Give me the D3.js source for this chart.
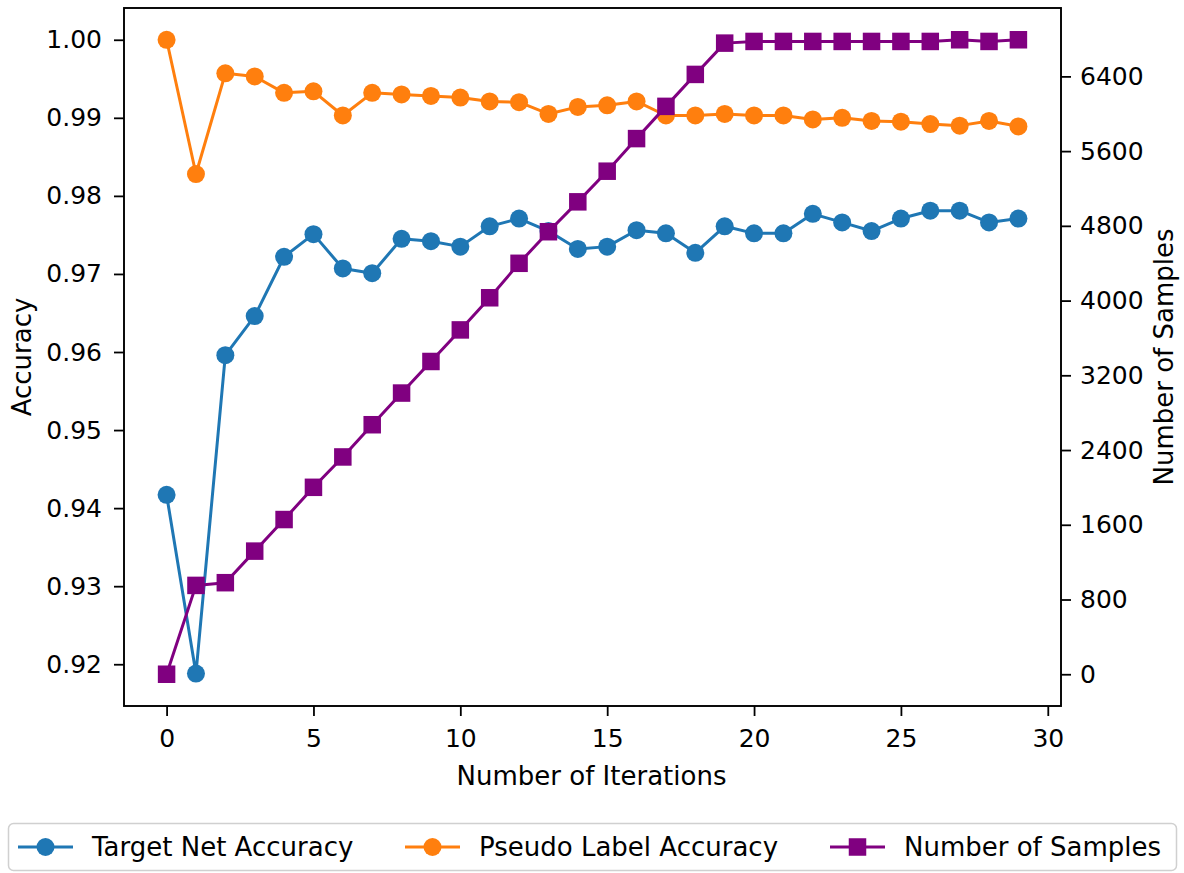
<!DOCTYPE html>
<html>
<head>
<meta charset="utf-8">
<script src="https://cdnjs.cloudflare.com/ajax/libs/d3/7.8.5/d3.min.js"></script>
<style>
  body { margin: 0; background: #fff; }
  svg text { font-family: "DejaVu Sans", sans-serif; fill: #000; }
</style>
</head>
<body>
<div id="chart"></div>
<script>
// iterations 0..29
const iterations = d3.range(0, 30);

const targetNetAccuracy = [
  0.9417, 0.9188, 0.9596, 0.9646, 0.9722, 0.9751, 0.9707, 0.9701, 0.9745, 0.9742,
  0.9735, 0.9761, 0.9771, 0.9755, 0.9732, 0.9735, 0.9756, 0.9752, 0.9727, 0.9761,
  0.9752, 0.9752, 0.9777, 0.9766, 0.9755, 0.9771, 0.9781, 0.9781, 0.9766, 0.9771
];

const pseudoLabelAccuracy = [
  1.0000, 0.9828, 0.9957, 0.9953, 0.9932, 0.9934, 0.9903, 0.9932, 0.9930, 0.9928,
  0.9926, 0.9921, 0.9920, 0.9905, 0.9914, 0.9916, 0.9921, 0.9903, 0.9903, 0.9905,
  0.9903, 0.9903, 0.9898, 0.9900, 0.9896, 0.9895, 0.9892, 0.9890, 0.9896, 0.9889
];

const numberOfSamples = [
  0, 951, 980, 1318, 1656, 2001, 2326, 2671, 3010, 3348,
  3686, 4030, 4399, 4737, 5057, 5385, 5734, 6079, 6421, 6756,
  6774, 6774, 6774, 6774, 6774, 6774, 6774, 6792, 6774, 6792
];

const xTicks = [0, 5, 10, 15, 20, 25, 30];
const accTicks = [0.92, 0.93, 0.94, 0.95, 0.96, 0.97, 0.98, 0.99, 1.00];
const sampleTicks = [0, 800, 1600, 2400, 3200, 4000, 4800, 5600, 6400];

const legendLabels = ["Target Net Accuracy", "Pseudo Label Accuracy", "Number of Samples"];

const W = 1184, H = 873;
const box = { left: 124, right: 1061, top: 8, bottom: 706 };
const tickFont = 25;
const labelFont = 26;

const svg = d3.select("#chart").append("svg")
  .attr("width", W)
  .attr("height", H);

const x = d3.scaleLinear()
  .domain([-1.45, 30.45])
  .range([box.left, box.right]);

const yAcc = d3.scaleLinear()
  .domain([0.91465, 1.00407])
  .range([box.bottom, box.top]);

const ySamples = d3.scaleLinear()
  .domain([-340, 7132])
  .range([box.bottom, box.top]);

// axes
const xAxis = d3.axisBottom(x).tickValues(xTicks).tickSize(10).tickPadding(13);
const yAxisL = d3.axisLeft(yAcc).tickValues(accTicks).tickFormat(d3.format(".2f")).tickSize(10).tickPadding(12);
const yAxisR = d3.axisRight(ySamples).tickValues(sampleTicks).tickFormat(d3.format("d")).tickSize(10).tickPadding(9);

function styleAxis(g) {
  g.select(".domain").remove();
  g.selectAll(".tick line").attr("stroke", "#000").attr("stroke-width", 1.8);
  g.selectAll(".tick text").style("font-size", tickFont + "px").attr("fill", "#000");
}

svg.append("g")
  .attr("transform", `translate(0, ${box.bottom})`)
  .call(xAxis).call(styleAxis);

svg.append("g")
  .attr("transform", `translate(${box.left}, 0)`)
  .call(yAxisL).call(styleAxis);

svg.append("g")
  .attr("transform", `translate(${box.right}, 0)`)
  .call(yAxisR).call(styleAxis);

// series
const series = [
  { values: targetNetAccuracy, y: yAcc, color: "#1f77b4", marker: "circle" },
  { values: pseudoLabelAccuracy, y: yAcc, color: "#ff7f0e", marker: "circle" },
  { values: numberOfSamples, y: ySamples, color: "#800080", marker: "square" }
];

const plot = svg.append("g");

series.forEach(s => {
  const line = d3.line()
    .x((d, i) => x(iterations[i]))
    .y(d => s.y(d));

  const g = plot.append("g");
  g.append("path")
    .datum(s.values)
    .attr("fill", "none")
    .attr("stroke", s.color)
    .attr("stroke-width", 3)
    .attr("stroke-linejoin", "round")
    .attr("d", line);

  if (s.marker === "circle") {
    g.selectAll("circle")
      .data(s.values)
      .enter()
      .append("circle")
      .attr("cx", (d, i) => x(iterations[i]))
      .attr("cy", d => s.y(d))
      .attr("r", 9)
      .attr("fill", s.color);
  } else {
    const side = 17.5;
    g.selectAll("rect")
      .data(s.values)
      .enter()
      .append("rect")
      .attr("x", (d, i) => x(iterations[i]) - side / 2)
      .attr("y", d => s.y(d) - side / 2)
      .attr("width", side)
      .attr("height", side)
      .attr("fill", s.color);
  }
});

// frame
svg.append("rect")
  .attr("x", box.left)
  .attr("y", box.top)
  .attr("width", box.right - box.left)
  .attr("height", box.bottom - box.top)
  .attr("fill", "none")
  .attr("stroke", "#000")
  .attr("stroke-width", 1.9);

// axis labels
svg.append("text")
  .attr("x", (box.left + box.right) / 2 - 1)
  .attr("y", 785)
  .attr("text-anchor", "middle")
  .style("font-size", labelFont + "px")
  .text("Number of Iterations");

svg.append("text")
  .attr("transform", `translate(31, ${(box.top + box.bottom) / 2}) rotate(-90)`)
  .attr("text-anchor", "middle")
  .style("font-size", labelFont + "px")
  .text("Accuracy");

svg.append("text")
  .attr("transform", `translate(1173, ${(box.top + box.bottom) / 2}) rotate(-90)`)
  .attr("text-anchor", "middle")
  .style("font-size", labelFont + "px")
  .text("Number of Samples");

// legend
const legend = svg.append("g");
legend.append("rect")
  .attr("x", 8.5)
  .attr("y", 823.5)
  .attr("width", 1168)
  .attr("height", 47)
  .attr("rx", 5)
  .attr("fill", "#fff")
  .attr("stroke", "#d0d0d0")
  .attr("stroke-width", 1.5);

const legendX = [18, 405, 830];
legendLabels.forEach((label, i) => {
  const s = series[i];
  const gx = legendX[i];
  const cy = 847;
  const item = legend.append("g");
  item.append("line")
    .attr("x1", gx).attr("x2", gx + 55)
    .attr("y1", cy).attr("y2", cy)
    .attr("stroke", s.color)
    .attr("stroke-width", 3);
  if (s.marker === "circle") {
    item.append("circle")
      .attr("cx", gx + 27.5).attr("cy", cy).attr("r", 9)
      .attr("fill", s.color);
  } else {
    item.append("rect")
      .attr("x", gx + 27.5 - 8.75).attr("y", cy - 8.75)
      .attr("width", 17.5).attr("height", 17.5)
      .attr("fill", s.color);
  }
  item.append("text")
    .attr("x", gx + 74)
    .attr("y", cy)
    .attr("dy", "0.36em")
    .style("font-size", labelFont + "px")
    .text(label);
});
</script>
</body>
</html>
